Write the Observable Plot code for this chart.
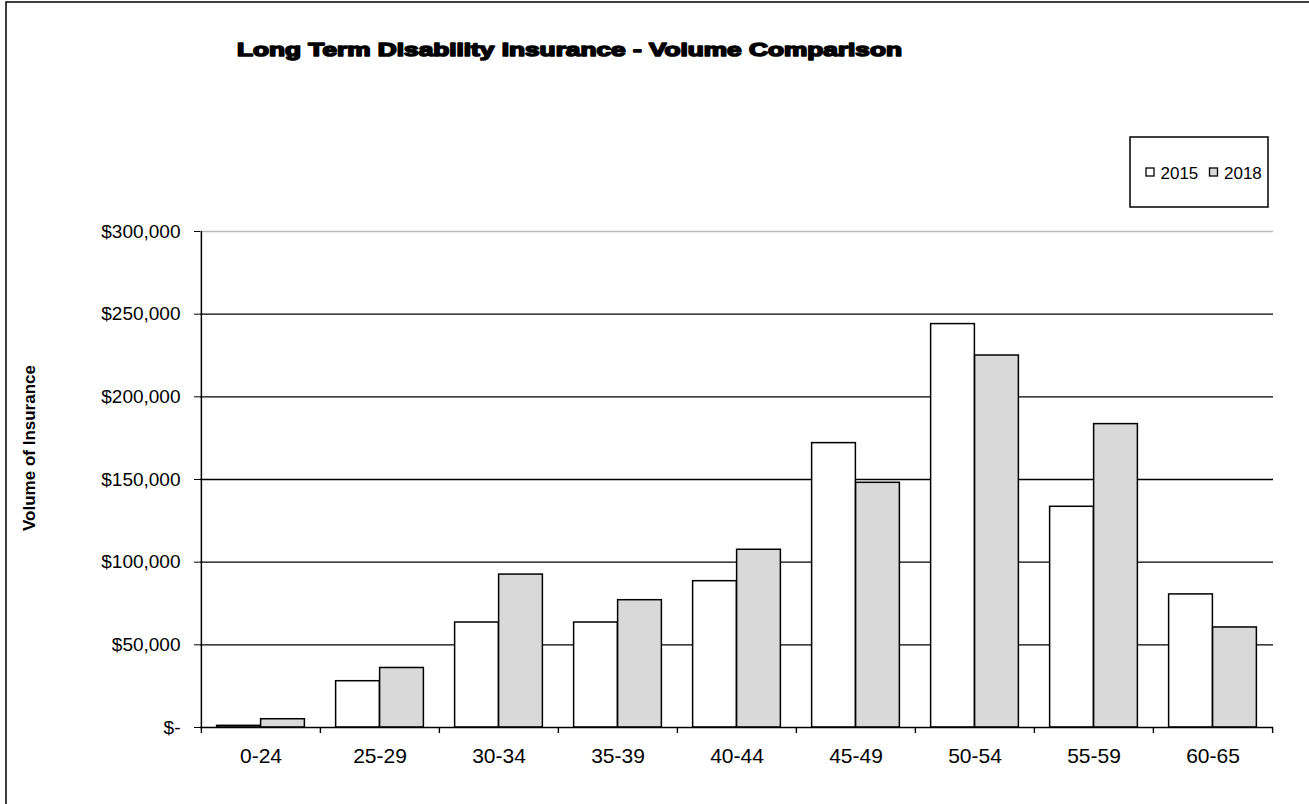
<!DOCTYPE html>
<html>
<head>
<meta charset="utf-8">
<script src="https://cdn.jsdelivr.net/npm/d3@7"></script>
<script src="https://cdn.jsdelivr.net/npm/@observablehq/plot@0.6"></script>
<style>
  html, body { margin: 0; padding: 0; background: #fff; }
  #chart { position: relative; width: 1309px; height: 804px; overflow: hidden; font-family: "Liberation Sans", Arial, sans-serif; }
  #chart > svg { position: absolute; left: 0; top: 0; }
  #overlay { pointer-events: none; }
</style>
</head>
<body>
<div id="chart"></div>
<script>
// Age bands and insured volume per year
const categories = ["0-24", "25-29", "30-34", "35-39", "40-44", "45-49", "50-54", "55-59", "60-65"];
const vol2015 = [1000, 28000, 63500, 63500, 88500, 172000, 244000, 133500, 80500];
const vol2018 = [5000, 36000, 92500, 77000, 107500, 148000, 225000, 183500, 60500];
const years = ["2015", "2018"];
const yTicks = [0, 50000, 100000, 150000, 200000, 250000, 300000];
const titleText = "Long Term Disability  Insurance - Volume Comparison";
const yTitle = "Volume of Insurance";

const W = 1309, H = 804;
const mL = 200, mR = 36, mT = 231, mB = 77;
const bw = (W - mL - mR) / categories.length;   // width of one age band
const barW = bw / 2.71;                          // two bars per band, Excel-style gap
const side = (bw - 2 * barW) / 2;

const rows2015 = categories.map((age, i) => ({age, year: years[0], v: vol2015[i]}));
const rows2018 = categories.map((age, i) => ({age, year: years[1], v: vol2018[i]}));

const money = d3.format(",");
const fills = {"2015": "#ffffff", "2018": "#d9d9d9"};

const chart = Plot.plot({
  width: W,
  height: H,
  marginLeft: mL,
  marginRight: mR,
  marginTop: mT,
  marginBottom: mB,
  style: {fontFamily: "Liberation Sans, Arial, sans-serif", background: "transparent", color: "#000"},
  x: {type: "band", domain: categories, padding: 0, axis: null},
  y: {domain: [0, 300000], axis: null},
  marks: [
    // horizontal gridlines
    Plot.ruleY(yTicks.filter(t => t > 0 && t < 300000), {stroke: "#000", strokeWidth: 1.4}),
    Plot.ruleY([300000], {stroke: "#bdbdbd", strokeWidth: 1.5}),
    // bars
    Plot.barY(rows2015, {x: "age", y: "v", fill: fills["2015"], stroke: "#000", strokeWidth: 1.5,
      insetLeft: side, insetRight: side + barW}),
    Plot.barY(rows2018, {x: "age", y: "v", fill: fills["2018"], stroke: "#000", strokeWidth: 1.5,
      insetLeft: side + barW, insetRight: side}),
    // axis lines
    Plot.ruleY([0], {stroke: "#000", strokeWidth: 1.5}),
    Plot.ruleX([categories[0]], {x: d => d, dx: -bw / 2, y1: 0, y2: 300000, stroke: "#000", strokeWidth: 1.5}),
    // category boundary ticks below the axis
    Plot.ruleX(categories, {x: d => d, dx: -bw / 2, y1: 0, y2: 0, insetBottom: -6, stroke: "#000", strokeWidth: 1.4}),
    Plot.ruleX([categories[categories.length - 1]], {x: d => d, dx: bw / 2, y1: 0, y2: 0, insetBottom: -6, stroke: "#000", strokeWidth: 1.4}),
    // axes
    Plot.axisY({ticks: yTicks, tickSize: 6, tickPadding: 14, fontSize: 19, label: null, stroke: "#000",
      tickFormat: d => d === 0 ? "$-" : "$" + money(d)}),
    Plot.axisX({tickSize: 0, tickPadding: 21, fontSize: 21, label: null})
  ]
});

const root = document.getElementById("chart");
root.appendChild(chart);

// Title, axis title, legend and outer border
const ov = d3.select(root).append("svg")
  .attr("id", "overlay")
  .attr("width", W).attr("height", H)
  .style("font-family", "Liberation Sans, Arial, sans-serif");

ov.append("rect")
  .attr("x", 6).attr("y", 2).attr("width", W + 20).attr("height", H + 20)
  .attr("fill", "none").attr("stroke", "#000").attr("stroke-width", 1.5);

ov.append("text")
  .attr("x", 237).attr("y", 56)
  .attr("font-size", 19).attr("font-weight", 900)
  .attr("stroke", "#000").attr("stroke-width", 1.6)
  .attr("stroke-linejoin", "round")
  .attr("textLength", 665)
  .attr("lengthAdjust", "spacingAndGlyphs")
  .text(titleText);

ov.append("text")
  .attr("transform", "translate(35,448) rotate(-90)")
  .attr("text-anchor", "middle")
  .attr("font-size", 17).attr("font-weight", "bold")
  .text(yTitle);

const lg = ov.append("g");
lg.append("rect")
  .attr("x", 1130).attr("y", 137).attr("width", 138).attr("height", 70)
  .attr("fill", "#fff").attr("stroke", "#000").attr("stroke-width", 1.5);
const items = [{label: years[0], x: 1146}, {label: years[1], x: 1209.5}];
items.forEach(it => {
  lg.append("rect")
    .attr("x", it.x).attr("y", 168).attr("width", 8).attr("height", 8)
    .attr("fill", fills[it.label]).attr("stroke", "#000").attr("stroke-width", 1.3);
  lg.append("text")
    .attr("x", it.x + 14.5).attr("y", 178.5)
    .attr("font-size", 17)
    .text(it.label);
});
</script>
</body>
</html>
